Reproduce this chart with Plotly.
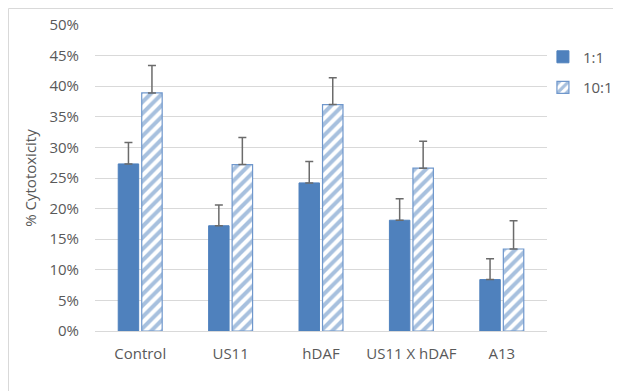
import plotly.graph_objects as go

categories = ["Control", "US11", "hDAF", "US11 X hDAF", "A13"]
ratio_1_1 = [0.273, 0.172, 0.242, 0.181, 0.084]
err_1_1 = [0.035, 0.034, 0.035, 0.035, 0.034]
ratio_10_1 = [0.389, 0.272, 0.370, 0.266, 0.134]
err_10_1 = [0.045, 0.044, 0.044, 0.044, 0.046]

blue = "#4f81bd"
grey_txt = "#595959"
font_family = "Open Sans, Noto Sans, Arial, sans-serif"
fs = 15

W, H = 613, 383
L, T, PW, PH = 87, 17, 452, 306

fig = go.Figure()
fig.add_trace(go.Bar(
    name="1:1", x=categories, y=ratio_1_1,
    marker=dict(color=blue, line=dict(color=blue, width=1)),
    error_y=dict(type="data", array=err_1_1, symmetric=False, arrayminus=[0]*5,
                 color="#6b6b6b", thickness=1.5, width=4),
    legendgroup="a",
))
fig.add_trace(go.Bar(
    name="10:1", x=categories, y=ratio_10_1,
    marker=dict(color="white", line=dict(color="#6f97cc", width=1.2),
                pattern=dict(shape="/", fgcolor=blue, bgcolor="white", size=8, solidity=0.5)),
    error_y=dict(type="data", array=err_10_1, symmetric=False, arrayminus=[0]*5,
                 color="#6b6b6b", thickness=1.5, width=4),
    legendgroup="b",
))

fig.update_layout(
    width=W, height=H,
    margin=dict(l=L, r=W - L - PW, t=T, b=H - T - PH, autoexpand=False),
    paper_bgcolor="white", plot_bgcolor="white",
    barmode="group", bargap=0.48, bargroupgap=0.13,
    font=dict(family=font_family, size=fs, color=grey_txt),
    legend=dict(xref="container", yref="container", x=0.995, y=0.915,
                xanchor="right", yanchor="top",
                tracegroupgap=8, font=dict(size=fs, color=grey_txt),
                itemwidth=30, bgcolor="rgba(0,0,0,0)"),
    showlegend=True,
)
fig.update_yaxes(range=[0, 0.5], dtick=0.05, tickformat=".0%", automargin=False,
                 gridcolor="#d9d9d9", gridwidth=1, zeroline=False,
                 showline=False, ticklabelstandoff=15,
                 title=dict(text="% Cytotoxicity", standoff=9, font=dict(size=fs, color=grey_txt)))
fig.update_xaxes(showline=True, linecolor="#d9d9d9", linewidth=1, ticks="", automargin=False,
                 ticklabelstandoff=9)

# chart-area border (top and left edges visible)
yt = (T + PH - 0.5) / PH
xl = (0.5 - L) / PW
fig.add_shape(type="line", xref="paper", yref="paper",
              x0=xl, x1=(W - L) / PW, y0=yt, y1=yt,
              line=dict(color="#d9d9d9", width=1))
fig.add_shape(type="line", xref="paper", yref="paper",
              x0=xl, x1=xl, y0=yt, y1=-(H - T - PH) / PH,
              line=dict(color="#d9d9d9", width=1))

fig.write_html("out.html")
